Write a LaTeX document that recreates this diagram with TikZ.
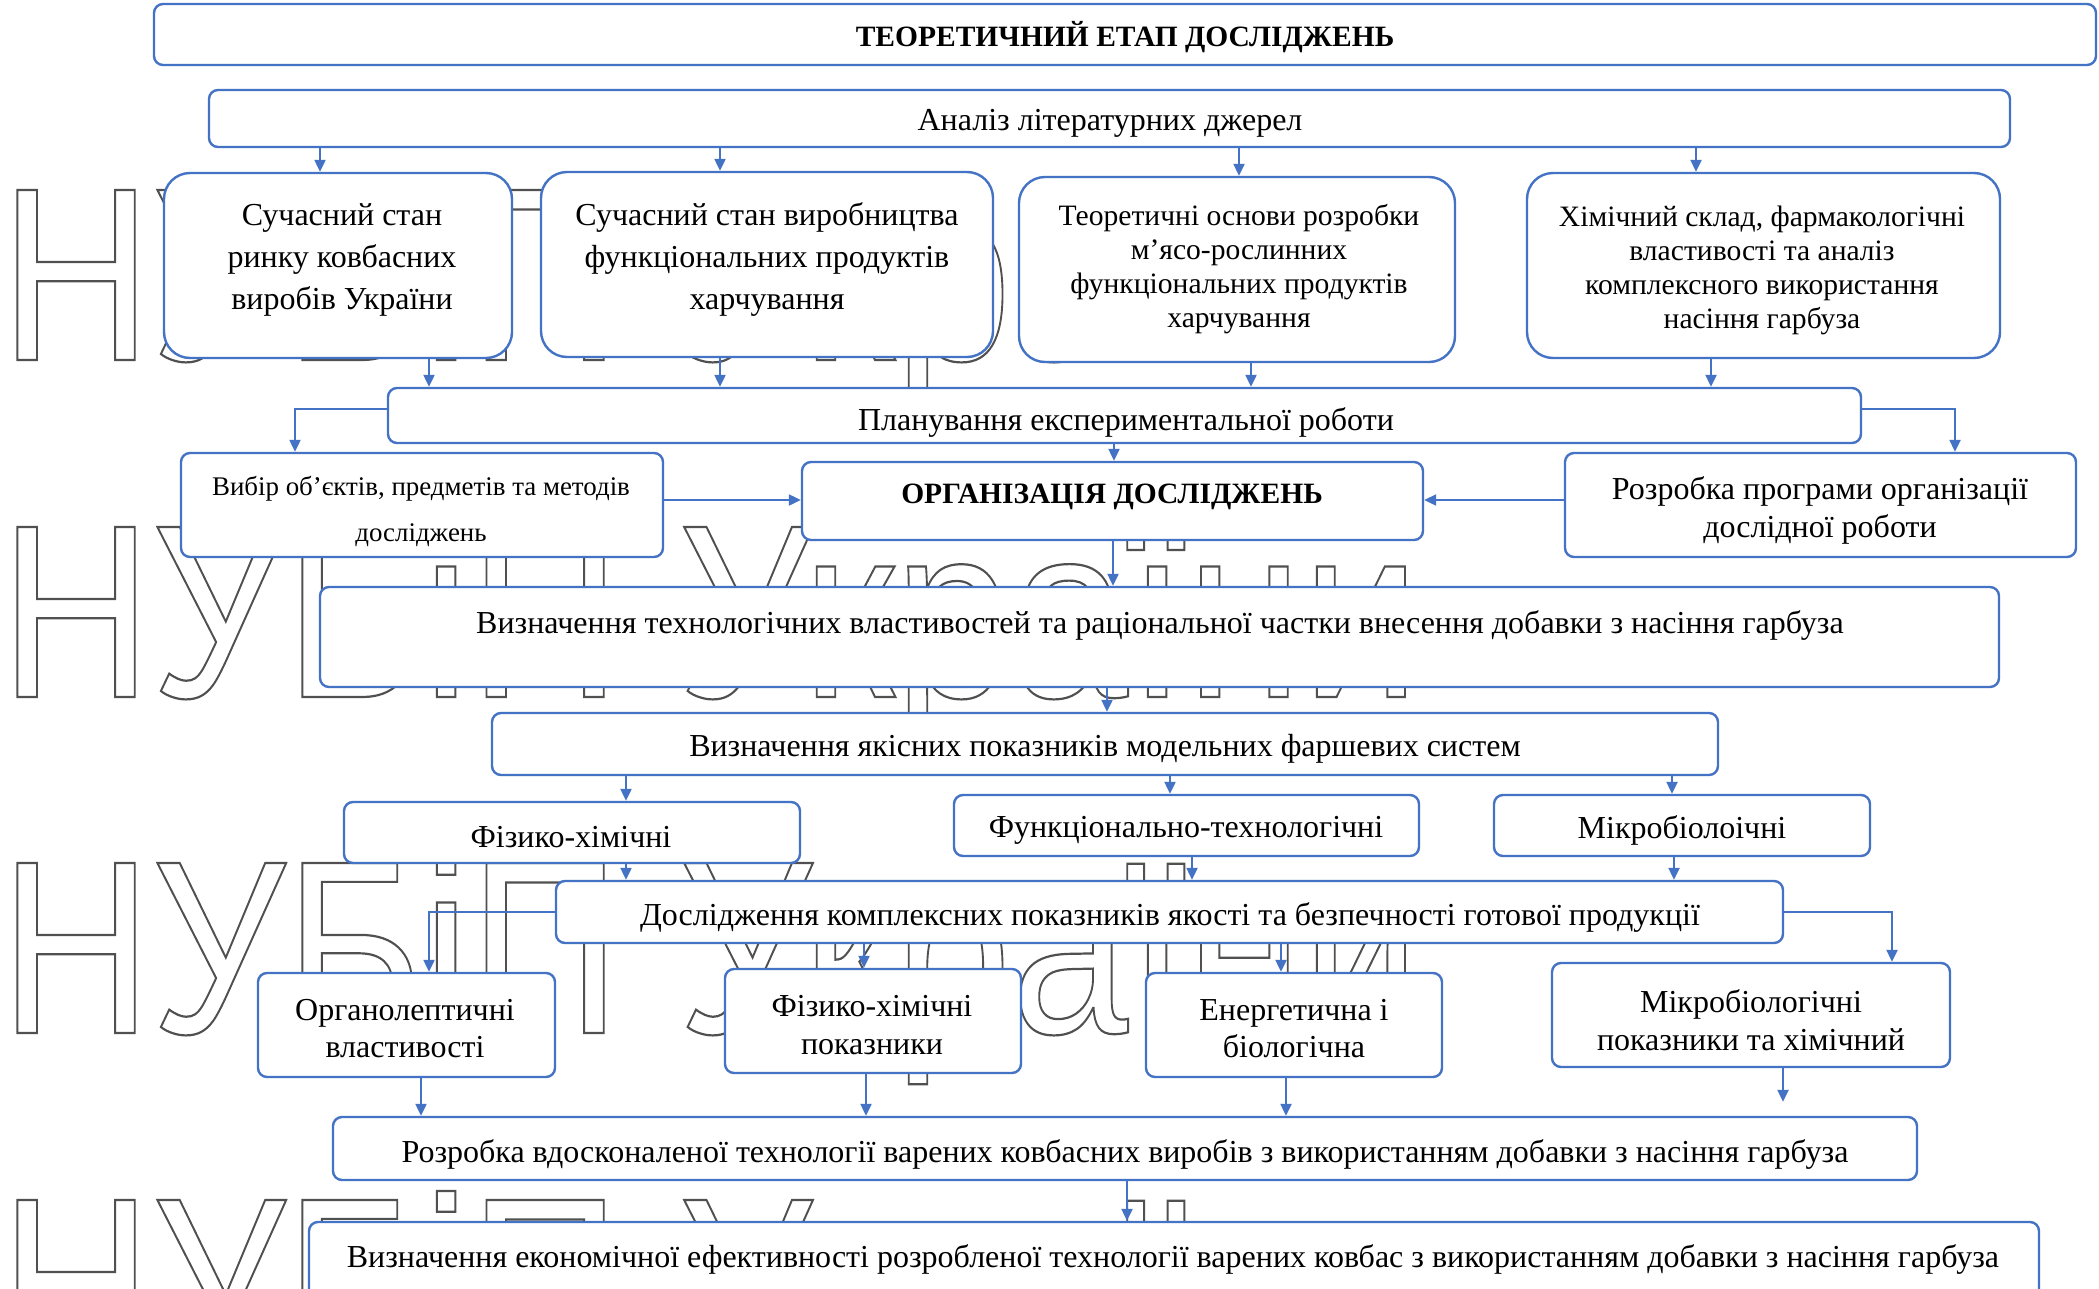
\documentclass[tikz,border=0pt]{standalone}
\usepackage{fontspec}
\setmainfont{Liberation Serif}
\newfontfamily\wmfont{Liberation Sans}
\usetikzlibrary{arrows.meta}
\definecolor{bblue}{HTML}{4472C4}
\definecolor{wmgray}{HTML}{505050}
\newcommand\wmstroke[1]{\special{pdf:literal direct 1 Tr 2.2 w}#1\special{pdf:literal direct 0 Tr}}
\begin{document}
\begin{tikzpicture}[x=1pt,y=-1pt,
  box/.style={draw=bblue, line width=2.4pt, fill=white, rounded corners=9pt, inner sep=0pt},
  bigbox/.style={box, rounded corners=26pt},
  txt/.style={inner sep=0pt, align=center, font=\fontsize{32}{42}\selectfont},
  txtb/.style={inner sep=0pt, align=center, font=\fontsize{29.5}{36}\selectfont\bfseries},
  conn/.style={draw=bblue, line width=2.2pt, -{Triangle[length=12pt,width=11pt]}},
  wm/.style={inner sep=0pt, anchor=base west, font=\wmfont\fontsize{247}{250}\selectfont}
]
\clip (0,0) rectangle (2099,1288);
\fill[white] (0,0) rectangle (2099,1288);

% watermark
\foreach \yy [count=\i] in {360,697,1033,1370} {
  \node[wm, text=wmgray] (wm\i) at (0,\yy) {\scalebox{0.85}[1]{\wmstroke{НУБіП України}}};
}

% boxes
\node[box, minimum width=1942, minimum height=61] (title) at (1125,34.5) {};
\node[box, minimum width=1801, minimum height=57] (anal) at (1109.5,118.5) {};
\node[bigbox, minimum width=348, minimum height=185] (b1) at (338,265.5) {};
\node[bigbox, minimum width=452, minimum height=185] (b2) at (767,264.5) {};
\node[bigbox, minimum width=436, minimum height=185] (b3) at (1237,269.5) {};
\node[bigbox, minimum width=473, minimum height=185] (b4) at (1763.5,265.5) {};
\node[box, minimum width=1473, minimum height=55] (plan) at (1124.5,415.5) {};
\node[box, minimum width=482, minimum height=104] (vyb) at (422,505) {};
\node[box, minimum width=621, minimum height=78] (org) at (1112.5,501) {};
\node[box, minimum width=511, minimum height=104] (rozp) at (1820.5,505) {};
\node[box, minimum width=1679, minimum height=100] (tech) at (1159.5,637) {};
\node[box, minimum width=1226, minimum height=62] (yak) at (1105,744) {};
\node[box, minimum width=456, minimum height=61] (fiz) at (572,832.5) {};
\node[box, minimum width=465, minimum height=61] (fun) at (1186.5,825.5) {};
\node[box, minimum width=376, minimum height=61] (mik) at (1682,825.5) {};
\node[box, minimum width=1227, minimum height=62] (dosl) at (1169.5,912) {};
\node[box, minimum width=297, minimum height=104] (organo) at (406.5,1025) {};
\node[box, minimum width=296, minimum height=104] (fpok) at (873,1021) {};
\node[box, minimum width=296, minimum height=104] (ener) at (1294,1025) {};
\node[box, minimum width=398, minimum height=104] (mpok) at (1751,1015) {};
\node[box, minimum width=1584, minimum height=63] (vdosk) at (1125,1148.5) {};
\node[box, minimum width=1730, minimum height=90] (ekon) at (1174,1267) {};

% texts
\node[txtb] (ttitle) at (1125,37) {ТЕОРЕТИЧНИЙ ЕТАП ДОСЛІДЖЕНЬ};
\node[txt] (tanal) at (1110,123.5) {Аналіз літературних джерел};
\node[txt] (tb1) at (342,260) {Сучасний стан\\ринку ковбасних\\виробів України};
\node[txt] (tb2) at (767,259) {Сучасний стан виробництва\\функціональних продуктів\\харчування};
\node[txt, font=\fontsize{29.6}{33.8}\selectfont] (tb3) at (1239,269) {Теоретичні основи розробки\\м’ясо-рослинних\\функціональних продуктів\\харчування};
\node[txt, font=\fontsize{29.6}{34}\selectfont] (tb4) at (1762,270.5) {Хімічний склад, фармакологічні\\властивості та аналіз\\комплексного використання\\насіння гарбуза};
\node[txt] (tplan) at (1126,422) {Планування експериментальної роботи};
\node[txt, font=\fontsize{26.9}{46}\selectfont] (tvyb) at (421,511) {Вибір об’єктів, предметів та методів\\досліджень};
\node[txtb] (torg) at (1112,497) {ОРГАНІЗАЦІЯ ДОСЛІДЖЕНЬ};
\node[txt, font=\fontsize{32}{38}\selectfont] (trozp) at (1820,510) {Розробка програми організації\\дослідної роботи};
\node[txt] (ttech) at (1160,625.5) {Визначення технологічних властивостей та раціональної частки внесення добавки з насіння гарбуза};
\node[txt] (tyak) at (1105,749) {Визначення якісних показників модельних фаршевих систем};
\node[txt] (tfiz) at (571,837) {Фізико-хімічні};
\node[txt] (tfun) at (1186,830.5) {Функціонально-технологічні};
\node[txt] (tmik) at (1682,830.5) {Мікробіолоічні};
\node[txt] (tdosl) at (1170,917) {Дослідження комплексних показників якості та безпечності готової продукції};
\node[txt, font=\fontsize{32}{37}\selectfont] (torgano) at (405,1028.5) {Органолептичні\\властивості};
\node[txt, font=\fontsize{32}{38}\selectfont] (tfpok) at (872,1025) {Фізико-хімічні\\показники};
\node[txt, font=\fontsize{32}{37}\selectfont] (tener) at (1294,1028.5) {Енергетична і\\біологічна};
\node[txt, font=\fontsize{32}{38}\selectfont] (tmpok) at (1751,1020) {Мікробіологічні\\показники та хімічний};
\node[txt] (tvdosk) at (1125,1154) {Розробка вдосконаленої технології варених ковбасних виробів з використанням добавки з насіння гарбуза};
\node[txt] (tekon) at (1173,1259) {Визначення економічної ефективності розробленої технології варених ковбас з використанням добавки з насіння гарбуза};

% connectors
\draw[conn] (anal.south -| 320,0) -- (b1.north -| 320,0);
\draw[conn] (anal.south -| 720,0) -- (b2.north -| 720,0);
\draw[conn] (anal.south -| 1239,0) -- (b3.north -| 1239,0);
\draw[conn] (anal.south -| 1696,0) -- (b4.north -| 1696,0);
\draw[conn] (b1.south -| 429,0) -- (plan.north -| 429,0);
\draw[conn] (b2.south -| 720,0) -- (plan.north -| 720,0);
\draw[conn] (b3.south -| 1251,0) -- (plan.north -| 1251,0);
\draw[conn] (b4.south -| 1711,0) -- (plan.north -| 1711,0);
\draw[conn] (plan.west |- 0,409) -| (vyb.north -| 295,0);
\draw[conn] (plan.east |- 0,409) -| (rozp.north -| 1955,0);
\draw[conn] (plan.south -| 1114,0) -- (org.north -| 1114,0);
\draw[conn] (vyb.east |- 0,500) -- (org.west |- 0,500);
\draw[conn] (rozp.west |- 0,500) -- (org.east |- 0,500);
\draw[conn] (org.south -| 1113,0) -- (tech.north -| 1113,0);
\draw[conn] (tech.south -| 1107,0) -- (yak.north -| 1107,0);
\draw[conn] (yak.south -| 626,0) -- (fiz.north -| 626,0);
\draw[conn] (yak.south -| 1170,0) -- (fun.north -| 1170,0);
\draw[conn] (yak.south -| 1672,0) -- (mik.north -| 1672,0);
\draw[conn] (fiz.south -| 626,0) -- (dosl.north -| 626,0);
\draw[conn] (fun.south -| 1192,0) -- (dosl.north -| 1192,0);
\draw[conn] (mik.south -| 1674,0) -- (dosl.north -| 1674,0);
\draw[conn] (dosl.west |- 0,912) -| (organo.north -| 429,0);
\draw[conn] (dosl.east |- 0,912) -| (mpok.north -| 1892,0);
\draw[conn] (dosl.south -| 864,0) -- (fpok.north -| 864,0);
\draw[conn] (dosl.south -| 1281,0) -- (ener.north -| 1281,0);
\draw[conn] (organo.south -| 421,0) -- (vdosk.north -| 421,0);
\draw[conn] (fpok.south -| 866,0) -- (vdosk.north -| 866,0);
\draw[conn] (ener.south -| 1286,0) -- (vdosk.north -| 1286,0);
\draw[conn, shorten >=14pt] (mpok.south -| 1783,0) -- (vdosk.north -| 1783,0);
\draw[conn] (vdosk.south -| 1127,0) -- (ekon.north -| 1127,0);
\end{tikzpicture}
\end{document}
